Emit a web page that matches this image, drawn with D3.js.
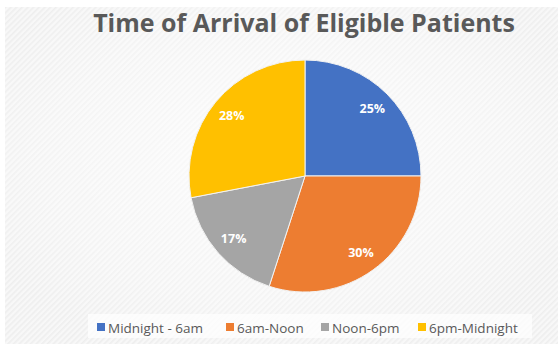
<!DOCTYPE html>
<html>
<head>
<meta charset="utf-8">
<script src="https://cdn.jsdelivr.net/npm/d3@7"></script>
<style>
  html, body { margin: 0; padding: 0; background: #ffffff; }
  svg { display: block; }
</style>
</head>
<body>
<svg id="chart" width="558" height="344"></svg>
<script>
// Arrival windows and their share of eligible patients (percent)
const categories = ["Midnight - 6am", "6am-Noon", "Noon-6pm", "6pm-Midnight"];
const shares = [25, 30, 17, 28];
const sliceColors = ["#4472C4", "#ED7D31", "#A5A5A5", "#FFC000"];
const titleText = "Time of Arrival of Eligible Patients";

const W = 558, H = 344;
const svg = d3.select("#chart");
const defs = svg.append("defs");

// Fine diagonal texture for the chart background
const pat = defs.append("pattern")
  .attr("id", "hatch")
  .attr("patternUnits", "userSpaceOnUse")
  .attr("width", 4).attr("height", 4)
  .attr("patternTransform", "rotate(45)");
pat.append("rect").attr("width", 4).attr("height", 4).attr("fill", "#f6f6f6");
pat.append("rect").attr("width", 1.6).attr("height", 4).attr("fill", "#eaeaea");

const glow = defs.append("radialGradient")
  .attr("id", "glow").attr("cx", "50%").attr("cy", "45%").attr("r", "60%");
glow.append("stop").attr("offset", "0%").attr("stop-color", "#fff").attr("stop-opacity", 0.8);
glow.append("stop").attr("offset", "70%").attr("stop-color", "#fff").attr("stop-opacity", 0.45);
glow.append("stop").attr("offset", "100%").attr("stop-color", "#fff").attr("stop-opacity", 0.2);

const plot = { x: 5, y: 7, w: W - 5, h: H - 7 };
svg.append("rect").attr("x", plot.x).attr("y", plot.y).attr("width", plot.w).attr("height", plot.h)
  .attr("fill", "url(#hatch)");
svg.append("rect").attr("x", plot.x).attr("y", plot.y).attr("width", plot.w).attr("height", plot.h)
  .attr("fill", "url(#glow)");

// Title
svg.append("text")
  .attr("x", 304).attr("y", 32)
  .attr("text-anchor", "middle")
  .attr("font-family", "'Open Sans', sans-serif")
  .attr("font-weight", 700)
  .attr("font-size", 25)
  .attr("fill", "#595959")
  .text(titleText);

// Pie
const cx = 305, cy = 176, r = 116;
const color = d3.scaleOrdinal().domain(categories).range(sliceColors);
const data = categories.map((c, i) => ({ cat: c, value: shares[i] }));
const pie = d3.pie().value(d => d.value).sort(null);
const arc = d3.arc().innerRadius(0).outerRadius(r);
const labelArc = d3.arc().innerRadius(r * 0.82).outerRadius(r * 0.82);

const g = svg.append("g").attr("transform", `translate(${cx},${cy})`);
const arcs = pie(data);
g.selectAll("path.slice").data(arcs).join("path")
  .attr("class", "slice")
  .attr("d", arc)
  .attr("fill", d => color(d.data.cat))
  .attr("stroke", "#f2f2f2")
  .attr("stroke-width", 1);

g.selectAll("text.pct").data(arcs).join("text")
  .attr("class", "pct")
  .attr("transform", d => `translate(${labelArc.centroid(d)})`)
  .attr("text-anchor", "middle")
  .attr("dy", "0.35em")
  .attr("font-family", "'Open Sans', sans-serif")
  .attr("font-weight", 700)
  .attr("font-size", 12.5)
  .attr("fill", "#ffffff")
  .text(d => d.data.value + "%");

// Legend
svg.append("rect").attr("x", 88).attr("y", 314).attr("width", 444).attr("height", 24)
  .attr("fill", "#ffffff").attr("opacity", 0.7);
const legendX = [97, 226, 321, 418];
const lg = svg.append("g");
const items = lg.selectAll("g.item").data(categories).join("g")
  .attr("class", "item")
  .attr("transform", (d, i) => `translate(${legendX[i]},0)`);
items.append("rect").attr("x", 0).attr("y", 323).attr("width", 8).attr("height", 8)
  .attr("fill", d => color(d));
items.append("text").attr("x", 11).attr("y", 333)
  .attr("font-family", "'Open Sans', sans-serif")
  .attr("font-size", 13.5)
  .attr("fill", "#595959")
  .text(d => d);
</script>
</body>
</html>
